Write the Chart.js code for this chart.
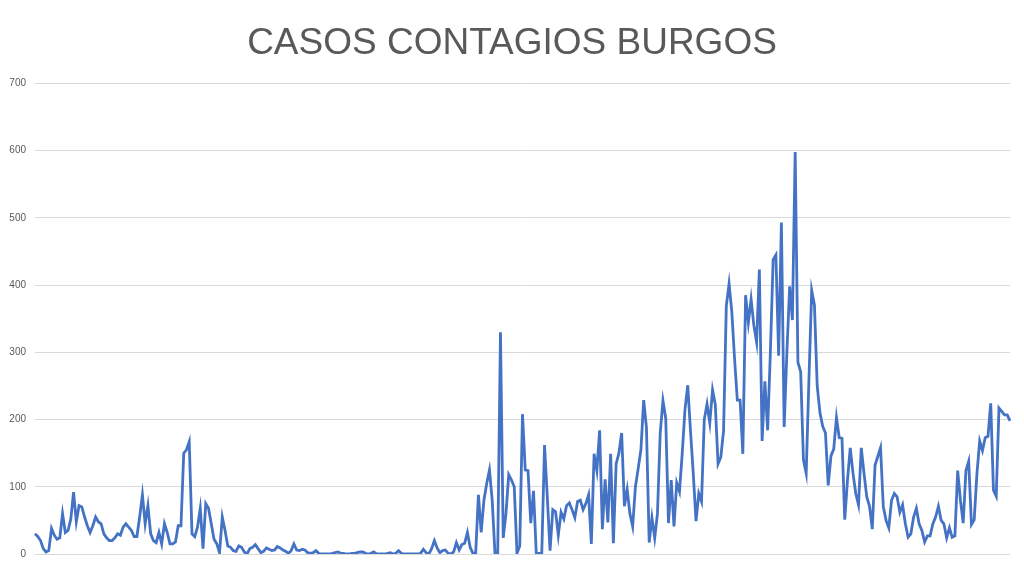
<!DOCTYPE html>
<html>
<head>
<meta charset="utf-8">
<title>Casos contagios Burgos</title>
<script src="https://cdn.jsdelivr.net/npm/chart.js@4"></script>
<style>
  html, body { margin: 0; padding: 0; background: #ffffff; }
  #chart { display: block; }
</style>
</head>
<body>
<canvas id="chart" width="1024" height="576"></canvas>
<script>
// Daily cases (one value per day)
var casos = [
  30, 26, 20, 8, 3, 5, 38, 28, 22, 24, 60, 32, 35, 52, 92, 48, 72, 70, 55, 42,
  32, 42, 55, 48, 45, 30, 24, 20, 20, 24, 30, 28, 40, 45, 40, 35, 26, 26, 55, 88,
  45, 72, 30, 20, 17, 32, 15, 45, 32, 15, 15, 18, 42, 42, 150, 155, 167, 30, 26, 40,
  68, 8, 75, 68, 45, 22, 15, 2, 55, 35, 12, 10, 5, 4, 12, 10, 3, 0, 8, 10,
  14, 8, 2, 4, 9, 7, 5, 6, 11, 9, 6, 4, 1, 5, 15, 6, 5, 7, 6, 2,
  1, 2, 5, 1, 0, 0, 0, 0, 1, 2, 3, 1, 1, 0, 0, 1, 1, 2, 3, 3,
  1, 0, 1, 3, 0, 0, 0, 0, 1, 2, 0, 1, 5, 1, 0, 0, 0, 0, 0, 0,
  1, 7, 2, 0, 8, 20, 9, 2, 5, 6, 1, 0, 3, 17, 6, 14, 16, 32, 10, 1,
  1, 88, 32, 80, 105, 125, 80, 1, 1, 330, 24, 60, 118, 110, 100, 1, 12, 208, 125, 124,
  46, 94, 1, 1, 1, 162, 85, 5, 66, 63, 28, 62, 52, 72, 76, 66, 54, 78, 80, 66,
  75, 88, 15, 149, 124, 184, 37, 111, 47, 149, 16, 134, 150, 180, 71, 96, 60, 41, 100, 127,
  155, 229, 188, 17, 54, 24, 60, 180, 228, 202, 46, 110, 41, 106, 93, 150, 215, 251, 183, 120,
  49, 90, 78, 200, 223, 195, 244, 222, 134, 144, 183, 369, 402, 360, 290, 229, 229, 149, 385, 344,
  379, 340, 315, 423, 168, 257, 184, 300, 438, 445, 295, 493, 189, 300, 398, 348, 598, 285, 271, 140,
  120, 260, 392, 370, 250, 210, 190, 180, 102, 146, 156, 203, 173, 172, 51, 110, 158, 120, 90, 73,
  158, 120, 85, 71, 37, 132, 145, 158, 70, 50, 39, 80, 90, 85, 62, 73, 45, 25, 30, 55,
  68, 45, 35, 18, 27, 27, 45, 55, 71, 50, 45, 24, 39, 25, 27, 124, 80, 46, 124, 138,
  44, 51, 120, 168, 154, 173, 175, 224, 95, 86, 217, 212, 207, 207, 198
];

// Day number for each value (x axis has no visible labels)
var dias = casos.map(function (v, i) { return i + 1; });

var yTicks = [0, 100, 200, 300, 400, 500, 600, 700];

new Chart(document.getElementById('chart'), {
  type: 'line',
  data: {
    labels: dias,
    datasets: [{
      label: 'Casos',
      data: casos,
      borderColor: '#4472c4',
      backgroundColor: '#4472c4',
      borderWidth: 2.8,
      pointRadius: 0,
      tension: 0,
      fill: false
    }]
  },
  options: {
    responsive: false,
    animation: false,
    devicePixelRatio: 1,
    layout: { padding: { left: 0, right: 0, top: 0, bottom: 14 } },
    plugins: {
      legend: { display: false },
      tooltip: { enabled: false },
      title: {
        display: true,
        text: 'CASOS CONTAGIOS BURGOS',
        color: '#595959',
        font: { family: "'Liberation Sans', Arial, sans-serif", size: 37, weight: 'normal' },
        padding: { top: 22, bottom: 17 }
      }
    },
    scales: {
      x: {
        offset: false,
        grid: { display: false },
        border: { display: false },
        ticks: { display: false }
      },
      y: {
        min: 0,
        max: 700,
        afterFit: function (scale) { scale.width = 35; },
        afterBuildTicks: function (scale) {
          scale.ticks = yTicks.map(function (v) { return { value: v }; });
        },
        grid: { color: '#d9d9d9', lineWidth: 1, drawTicks: false },
        border: { display: false },
        ticks: {
          autoSkip: false,
          color: '#595959',
          padding: 9,
          font: { family: "'Liberation Sans', Arial, sans-serif", size: 10 }
        }
      },
      // empty right-hand margin so the title stays centred on the page
      margen: {
        position: 'right',
        afterFit: function (scale) { scale.width = 14; },
        grid: { display: false },
        border: { display: false },
        ticks: { display: false }
      }
    }
  }
});
</script>
</body>
</html>
